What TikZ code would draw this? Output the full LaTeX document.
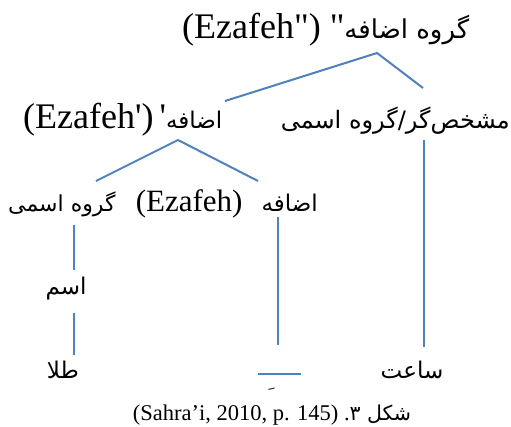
\documentclass[tikz,border=0pt]{standalone}
\usepackage{fontspec}
\setmainfont{Liberation Serif}
\newfontfamily\lat{Liberation Serif}
\newfontfamily\fa[Script=Arabic]{DejaVu Sans}
\TeXXeTstate=1
\definecolor{treeblue}{HTML}{4F81BD}
\newcommand{\latsize}{\fontsize{36}{38}\selectfont}
\newcommand{\fasize}{\fontsize{23}{26}\selectfont}
\begin{document}
\begin{tikzpicture}[x=1pt,y=-1pt,
  lbl/.style={inner sep=0pt},
  leaf/.style={inner sep=0pt,font=\fasize},
  edge/.style={draw=treeblue,line width=2pt}]
\useasboundingbox (0,0) rectangle (511,426);
% nodes
\node[lbl,anchor=base west] (top) at (182,38) {{\lat\latsize(Ezafeh")~"}{\fa\fontsize{26}{28}\selectfont\beginR گروه اضافه\endR}};
\node[lbl,anchor=base west] (ez1) at (23,128) {{\lat\latsize(Ezafeh')\hspace{6pt}'}{\fa\fasize اضافه}};
\node[lbl,anchor=base east] (spec) at (510,128) {\fa\fontsize{24}{26}\selectfont\beginR مشخص‌گر/گروه اسمی\endR};
\node[lbl,anchor=base west] (np) at (8,211) {\fa\fontsize{22}{26}\selectfont\beginR گروه اسمی\endR};
\node[lbl,anchor=base east] (ez) at (318,211) {{\lat\fontsize{31}{33}\selectfont(Ezafeh)}\hspace{19pt}{\fa\fasize اضافه}};
\node[leaf,anchor=base] (n) at (66,294) {\fa اسم};
\node[leaf,anchor=base] (tala) at (63,378) {\fa طلا};
\node[leaf,anchor=base] (saat) at (412,378) {\fa ساعت};
\node[inner sep=0pt,anchor=base] (cap) at (272,420) {{\lat\fontsize{22.5}{24}\selectfont(Sahra’i, 2010, p. 145) .}{\fa\fontsize{20.5}{24}\selectfont\beginR شکل ۳\endR}};
\node[inner sep=0pt,anchor=base,font=\fontsize{22}{22}\selectfont,text=black!80] (kasra) at (266,387) {\fa ‍ِ};
% connector endpoints
\coordinate (topv) at (377,53);
\coordinate (ez1t) at (225,101);
\coordinate (spect) at (423,88);
\coordinate (ez1v) at (178,140);
\coordinate (npt) at (96,181);
\coordinate (ezt) at (258,181);
\coordinate (specb) at (424,140);
\coordinate (saatt) at (424,347);
\coordinate (npb) at (74,225);
\coordinate (nt) at (74,270);
\coordinate (nb) at (74,313);
\coordinate (talat) at (74,355);
\coordinate (ezb) at (278,217);
\coordinate (gapt) at (278,345);
\coordinate (gapl) at (258,374);
\coordinate (gapr) at (301,374);
% connectors
\draw[edge] (ez1t) -- (topv) -- (spect);
\draw[edge] (npt) -- (ez1v) -- (ezt);
\draw[edge] (specb) -- (saatt);
\draw[edge] (npb) -- (nt);
\draw[edge] (nb) -- (talat);
\draw[edge] (ezb) -- (gapt);
\draw[edge] (gapl) -- (gapr);
\end{tikzpicture}
\end{document}
